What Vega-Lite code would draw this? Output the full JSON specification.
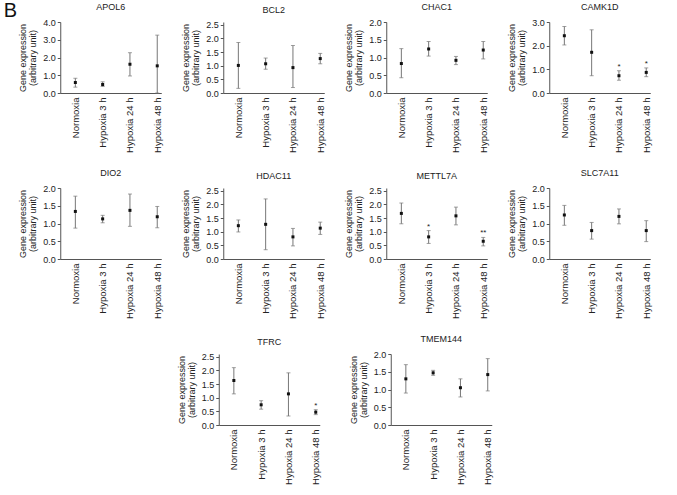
{
  "$schema": "https://vega.github.io/schema/vega-lite/v6.json",
  "padding": {"left": 3, "top": 1, "right": 5, "bottom": 5},
  "background": "white",
  "title": {"text": "B", "anchor": "start", "frame": "bounds", "fontSize": 20, "fontWeight": "normal", "offset": -18, "dx": -15, "color": "#111"},
  "data": {"values": [
    {"gene": "APOL6", "cond": "Normoxia", "mean": 0.59, "lo": 0.33, "hi": 0.83, "sig": ""},
    {"gene": "APOL6", "cond": "Hypoxia 3 h", "mean": 0.48, "lo": 0.37, "hi": 0.63, "sig": ""},
    {"gene": "APOL6", "cond": "Hypoxia 24 h", "mean": 1.62, "lo": 0.96, "hi": 2.27, "sig": ""},
    {"gene": "APOL6", "cond": "Hypoxia 48 h", "mean": 1.53, "lo": 0.0, "hi": 3.26, "sig": ""},
    {"gene": "BCL2", "cond": "Normoxia", "mean": 1.01, "lo": 0.17, "hi": 1.85, "sig": ""},
    {"gene": "BCL2", "cond": "Hypoxia 3 h", "mean": 1.07, "lo": 0.87, "hi": 1.28, "sig": ""},
    {"gene": "BCL2", "cond": "Hypoxia 24 h", "mean": 0.93, "lo": 0.2, "hi": 1.74, "sig": ""},
    {"gene": "BCL2", "cond": "Hypoxia 48 h", "mean": 1.26, "lo": 1.07, "hi": 1.45, "sig": ""},
    {"gene": "CHAC1", "cond": "Normoxia", "mean": 0.83, "lo": 0.43, "hi": 1.25, "sig": ""},
    {"gene": "CHAC1", "cond": "Hypoxia 3 h", "mean": 1.24, "lo": 1.04, "hi": 1.45, "sig": ""},
    {"gene": "CHAC1", "cond": "Hypoxia 24 h", "mean": 0.92, "lo": 0.8, "hi": 1.03, "sig": ""},
    {"gene": "CHAC1", "cond": "Hypoxia 48 h", "mean": 1.21, "lo": 0.96, "hi": 1.45, "sig": ""},
    {"gene": "CAMK1D", "cond": "Normoxia", "mean": 2.42, "lo": 2.03, "hi": 2.81, "sig": ""},
    {"gene": "CAMK1D", "cond": "Hypoxia 3 h", "mean": 1.72, "lo": 0.73, "hi": 2.67, "sig": ""},
    {"gene": "CAMK1D", "cond": "Hypoxia 24 h", "mean": 0.73, "lo": 0.54, "hi": 0.94, "sig": "*"},
    {"gene": "CAMK1D", "cond": "Hypoxia 48 h", "mean": 0.87, "lo": 0.69, "hi": 1.06, "sig": "*"},
    {"gene": "DIO2", "cond": "Normoxia", "mean": 1.34, "lo": 0.87, "hi": 1.77, "sig": ""},
    {"gene": "DIO2", "cond": "Hypoxia 3 h", "mean": 1.13, "lo": 1.02, "hi": 1.23, "sig": ""},
    {"gene": "DIO2", "cond": "Hypoxia 24 h", "mean": 1.37, "lo": 0.92, "hi": 1.83, "sig": ""},
    {"gene": "DIO2", "cond": "Hypoxia 48 h", "mean": 1.19, "lo": 0.88, "hi": 1.48, "sig": ""},
    {"gene": "HDAC11", "cond": "Normoxia", "mean": 1.22, "lo": 0.99, "hi": 1.43, "sig": ""},
    {"gene": "HDAC11", "cond": "Hypoxia 3 h", "mean": 1.27, "lo": 0.34, "hi": 2.2, "sig": ""},
    {"gene": "HDAC11", "cond": "Hypoxia 24 h", "mean": 0.81, "lo": 0.48, "hi": 1.12, "sig": ""},
    {"gene": "HDAC11", "cond": "Hypoxia 48 h", "mean": 1.13, "lo": 0.9, "hi": 1.35, "sig": ""},
    {"gene": "METTL7A", "cond": "Normoxia", "mean": 1.67, "lo": 1.29, "hi": 2.05, "sig": ""},
    {"gene": "METTL7A", "cond": "Hypoxia 3 h", "mean": 0.81, "lo": 0.57, "hi": 1.04, "sig": "*"},
    {"gene": "METTL7A", "cond": "Hypoxia 24 h", "mean": 1.58, "lo": 1.25, "hi": 1.9, "sig": ""},
    {"gene": "METTL7A", "cond": "Hypoxia 48 h", "mean": 0.65, "lo": 0.48, "hi": 0.79, "sig": "**"},
    {"gene": "SLC7A11", "cond": "Normoxia", "mean": 1.24, "lo": 0.95, "hi": 1.51, "sig": ""},
    {"gene": "SLC7A11", "cond": "Hypoxia 3 h", "mean": 0.8, "lo": 0.56, "hi": 1.03, "sig": ""},
    {"gene": "SLC7A11", "cond": "Hypoxia 24 h", "mean": 1.2, "lo": 0.99, "hi": 1.41, "sig": ""},
    {"gene": "SLC7A11", "cond": "Hypoxia 48 h", "mean": 0.8, "lo": 0.49, "hi": 1.08, "sig": ""},
    {"gene": "TFRC", "cond": "Normoxia", "mean": 1.63, "lo": 1.14, "hi": 2.1, "sig": ""},
    {"gene": "TFRC", "cond": "Hypoxia 3 h", "mean": 0.74, "lo": 0.58, "hi": 0.89, "sig": ""},
    {"gene": "TFRC", "cond": "Hypoxia 24 h", "mean": 1.14, "lo": 0.33, "hi": 1.91, "sig": ""},
    {"gene": "TFRC", "cond": "Hypoxia 48 h", "mean": 0.47, "lo": 0.38, "hi": 0.56, "sig": "*"},
    {"gene": "TMEM144", "cond": "Normoxia", "mean": 1.3, "lo": 0.9, "hi": 1.7, "sig": ""},
    {"gene": "TMEM144", "cond": "Hypoxia 3 h", "mean": 1.47, "lo": 1.4, "hi": 1.54, "sig": ""},
    {"gene": "TMEM144", "cond": "Hypoxia 24 h", "mean": 1.05, "lo": 0.79, "hi": 1.3, "sig": ""},
    {"gene": "TMEM144", "cond": "Hypoxia 48 h", "mean": 1.42, "lo": 0.96, "hi": 1.87, "sig": ""}
  ]},
  "spacing": 16,
  "center": true,
  "vconcat": [
    {"spacing": 19, "hconcat": [
      {"width": 101, "height": 71, "title": "APOL6", "transform": [{"filter": "datum.gene === 'APOL6'"}],
       "encoding": {"x": {"field": "cond", "type": "nominal", "sort": ["Normoxia", "Hypoxia 3 h", "Hypoxia 24 h", "Hypoxia 48 h"], "scale": {"type": "point", "padding": 0.35, "align": 0.79}, "title": null}},
       "layer": [
        {"mark": {"type": "rule", "color": "#777", "strokeWidth": 1}, "encoding": {"y": {"field": "lo", "type": "quantitative", "scale": {"domain": [0, 4]}, "axis": {"values": [0, 1, 2, 3, 4], "tickCount": 20, "format": ".1f", "labelOverlap": false, "title": ["Gene expression", "(arbitrary unit)"]}}, "y2": {"field": "hi"}}},
        {"mark": {"type": "tick", "color": "#777", "size": 4, "thickness": 1}, "encoding": {"y": {"field": "hi", "type": "quantitative"}}},
        {"mark": {"type": "tick", "color": "#777", "size": 4, "thickness": 1}, "encoding": {"y": {"field": "lo", "type": "quantitative"}}},
        {"mark": {"type": "square", "color": "#111", "size": 9, "opacity": 1}, "encoding": {"y": {"field": "mean", "type": "quantitative"}}},
        {"transform": [{"filter": "datum.sig !== ''"}], "mark": {"type": "text", "baseline": "alphabetic", "dy": -2, "fontSize": 8, "color": "#222"}, "encoding": {"y": {"field": "hi", "type": "quantitative"}, "text": {"field": "sig"}}}
       ]},
      {"width": 101, "height": 71, "title": "BCL2", "transform": [{"filter": "datum.gene === 'BCL2'"}],
       "encoding": {"x": {"field": "cond", "type": "nominal", "sort": ["Normoxia", "Hypoxia 3 h", "Hypoxia 24 h", "Hypoxia 48 h"], "scale": {"type": "point", "padding": 0.35, "align": 0.79}, "title": null}},
       "layer": [
        {"mark": {"type": "rule", "color": "#777", "strokeWidth": 1}, "encoding": {"y": {"field": "lo", "type": "quantitative", "scale": {"domain": [0, 2.5]}, "axis": {"values": [0, 0.5, 1, 1.5, 2, 2.5], "tickCount": 20, "format": ".1f", "labelOverlap": false, "title": ["Gene expression", "(arbitrary unit)"]}}, "y2": {"field": "hi"}}},
        {"mark": {"type": "tick", "color": "#777", "size": 4, "thickness": 1}, "encoding": {"y": {"field": "hi", "type": "quantitative"}}},
        {"mark": {"type": "tick", "color": "#777", "size": 4, "thickness": 1}, "encoding": {"y": {"field": "lo", "type": "quantitative"}}},
        {"mark": {"type": "square", "color": "#111", "size": 9, "opacity": 1}, "encoding": {"y": {"field": "mean", "type": "quantitative"}}},
        {"transform": [{"filter": "datum.sig !== ''"}], "mark": {"type": "text", "baseline": "alphabetic", "dy": -2, "fontSize": 8, "color": "#222"}, "encoding": {"y": {"field": "hi", "type": "quantitative"}, "text": {"field": "sig"}}}
       ]},
      {"width": 101, "height": 71, "title": "CHAC1", "transform": [{"filter": "datum.gene === 'CHAC1'"}],
       "encoding": {"x": {"field": "cond", "type": "nominal", "sort": ["Normoxia", "Hypoxia 3 h", "Hypoxia 24 h", "Hypoxia 48 h"], "scale": {"type": "point", "padding": 0.35, "align": 0.79}, "title": null}},
       "layer": [
        {"mark": {"type": "rule", "color": "#777", "strokeWidth": 1}, "encoding": {"y": {"field": "lo", "type": "quantitative", "scale": {"domain": [0, 2]}, "axis": {"values": [0, 0.5, 1, 1.5, 2], "tickCount": 20, "format": ".1f", "labelOverlap": false, "title": ["Gene expression", "(arbitrary unit)"]}}, "y2": {"field": "hi"}}},
        {"mark": {"type": "tick", "color": "#777", "size": 4, "thickness": 1}, "encoding": {"y": {"field": "hi", "type": "quantitative"}}},
        {"mark": {"type": "tick", "color": "#777", "size": 4, "thickness": 1}, "encoding": {"y": {"field": "lo", "type": "quantitative"}}},
        {"mark": {"type": "square", "color": "#111", "size": 9, "opacity": 1}, "encoding": {"y": {"field": "mean", "type": "quantitative"}}},
        {"transform": [{"filter": "datum.sig !== ''"}], "mark": {"type": "text", "baseline": "alphabetic", "dy": -2, "fontSize": 8, "color": "#222"}, "encoding": {"y": {"field": "hi", "type": "quantitative"}, "text": {"field": "sig"}}}
       ]},
      {"width": 101, "height": 71, "title": "CAMK1D", "transform": [{"filter": "datum.gene === 'CAMK1D'"}],
       "encoding": {"x": {"field": "cond", "type": "nominal", "sort": ["Normoxia", "Hypoxia 3 h", "Hypoxia 24 h", "Hypoxia 48 h"], "scale": {"type": "point", "padding": 0.35, "align": 0.79}, "title": null}},
       "layer": [
        {"mark": {"type": "rule", "color": "#777", "strokeWidth": 1}, "encoding": {"y": {"field": "lo", "type": "quantitative", "scale": {"domain": [0, 3]}, "axis": {"values": [0, 1, 2, 3], "tickCount": 20, "format": ".1f", "labelOverlap": false, "title": ["Gene expression", "(arbitrary unit)"]}}, "y2": {"field": "hi"}}},
        {"mark": {"type": "tick", "color": "#777", "size": 4, "thickness": 1}, "encoding": {"y": {"field": "hi", "type": "quantitative"}}},
        {"mark": {"type": "tick", "color": "#777", "size": 4, "thickness": 1}, "encoding": {"y": {"field": "lo", "type": "quantitative"}}},
        {"mark": {"type": "square", "color": "#111", "size": 9, "opacity": 1}, "encoding": {"y": {"field": "mean", "type": "quantitative"}}},
        {"transform": [{"filter": "datum.sig !== ''"}], "mark": {"type": "text", "baseline": "alphabetic", "dy": -2, "fontSize": 8, "color": "#222"}, "encoding": {"y": {"field": "hi", "type": "quantitative"}, "text": {"field": "sig"}}}
       ]}
    ]},
    {"spacing": 19, "hconcat": [
      {"width": 101, "height": 71, "title": "DIO2", "transform": [{"filter": "datum.gene === 'DIO2'"}],
       "encoding": {"x": {"field": "cond", "type": "nominal", "sort": ["Normoxia", "Hypoxia 3 h", "Hypoxia 24 h", "Hypoxia 48 h"], "scale": {"type": "point", "padding": 0.35, "align": 0.79}, "title": null}},
       "layer": [
        {"mark": {"type": "rule", "color": "#777", "strokeWidth": 1}, "encoding": {"y": {"field": "lo", "type": "quantitative", "scale": {"domain": [0, 2]}, "axis": {"values": [0, 0.5, 1, 1.5, 2], "tickCount": 20, "format": ".1f", "labelOverlap": false, "title": ["Gene expression", "(arbitrary unit)"]}}, "y2": {"field": "hi"}}},
        {"mark": {"type": "tick", "color": "#777", "size": 4, "thickness": 1}, "encoding": {"y": {"field": "hi", "type": "quantitative"}}},
        {"mark": {"type": "tick", "color": "#777", "size": 4, "thickness": 1}, "encoding": {"y": {"field": "lo", "type": "quantitative"}}},
        {"mark": {"type": "square", "color": "#111", "size": 9, "opacity": 1}, "encoding": {"y": {"field": "mean", "type": "quantitative"}}},
        {"transform": [{"filter": "datum.sig !== ''"}], "mark": {"type": "text", "baseline": "alphabetic", "dy": -2, "fontSize": 8, "color": "#222"}, "encoding": {"y": {"field": "hi", "type": "quantitative"}, "text": {"field": "sig"}}}
       ]},
      {"width": 101, "height": 71, "title": "HDAC11", "transform": [{"filter": "datum.gene === 'HDAC11'"}],
       "encoding": {"x": {"field": "cond", "type": "nominal", "sort": ["Normoxia", "Hypoxia 3 h", "Hypoxia 24 h", "Hypoxia 48 h"], "scale": {"type": "point", "padding": 0.35, "align": 0.79}, "title": null}},
       "layer": [
        {"mark": {"type": "rule", "color": "#777", "strokeWidth": 1}, "encoding": {"y": {"field": "lo", "type": "quantitative", "scale": {"domain": [0, 2.5]}, "axis": {"values": [0, 0.5, 1, 1.5, 2, 2.5], "tickCount": 20, "format": ".1f", "labelOverlap": false, "title": ["Gene expression", "(arbitrary unit)"]}}, "y2": {"field": "hi"}}},
        {"mark": {"type": "tick", "color": "#777", "size": 4, "thickness": 1}, "encoding": {"y": {"field": "hi", "type": "quantitative"}}},
        {"mark": {"type": "tick", "color": "#777", "size": 4, "thickness": 1}, "encoding": {"y": {"field": "lo", "type": "quantitative"}}},
        {"mark": {"type": "square", "color": "#111", "size": 9, "opacity": 1}, "encoding": {"y": {"field": "mean", "type": "quantitative"}}},
        {"transform": [{"filter": "datum.sig !== ''"}], "mark": {"type": "text", "baseline": "alphabetic", "dy": -2, "fontSize": 8, "color": "#222"}, "encoding": {"y": {"field": "hi", "type": "quantitative"}, "text": {"field": "sig"}}}
       ]},
      {"width": 101, "height": 71, "title": "METTL7A", "transform": [{"filter": "datum.gene === 'METTL7A'"}],
       "encoding": {"x": {"field": "cond", "type": "nominal", "sort": ["Normoxia", "Hypoxia 3 h", "Hypoxia 24 h", "Hypoxia 48 h"], "scale": {"type": "point", "padding": 0.35, "align": 0.79}, "title": null}},
       "layer": [
        {"mark": {"type": "rule", "color": "#777", "strokeWidth": 1}, "encoding": {"y": {"field": "lo", "type": "quantitative", "scale": {"domain": [0, 2.5]}, "axis": {"values": [0, 0.5, 1, 1.5, 2, 2.5], "tickCount": 20, "format": ".1f", "labelOverlap": false, "title": ["Gene expression", "(arbitrary unit)"]}}, "y2": {"field": "hi"}}},
        {"mark": {"type": "tick", "color": "#777", "size": 4, "thickness": 1}, "encoding": {"y": {"field": "hi", "type": "quantitative"}}},
        {"mark": {"type": "tick", "color": "#777", "size": 4, "thickness": 1}, "encoding": {"y": {"field": "lo", "type": "quantitative"}}},
        {"mark": {"type": "square", "color": "#111", "size": 9, "opacity": 1}, "encoding": {"y": {"field": "mean", "type": "quantitative"}}},
        {"transform": [{"filter": "datum.sig !== ''"}], "mark": {"type": "text", "baseline": "alphabetic", "dy": -2, "fontSize": 8, "color": "#222"}, "encoding": {"y": {"field": "hi", "type": "quantitative"}, "text": {"field": "sig"}}}
       ]},
      {"width": 101, "height": 71, "title": "SLC7A11", "transform": [{"filter": "datum.gene === 'SLC7A11'"}],
       "encoding": {"x": {"field": "cond", "type": "nominal", "sort": ["Normoxia", "Hypoxia 3 h", "Hypoxia 24 h", "Hypoxia 48 h"], "scale": {"type": "point", "padding": 0.35, "align": 0.79}, "title": null}},
       "layer": [
        {"mark": {"type": "rule", "color": "#777", "strokeWidth": 1}, "encoding": {"y": {"field": "lo", "type": "quantitative", "scale": {"domain": [0, 2]}, "axis": {"values": [0, 0.5, 1, 1.5, 2], "tickCount": 20, "format": ".1f", "labelOverlap": false, "title": ["Gene expression", "(arbitrary unit)"]}}, "y2": {"field": "hi"}}},
        {"mark": {"type": "tick", "color": "#777", "size": 4, "thickness": 1}, "encoding": {"y": {"field": "hi", "type": "quantitative"}}},
        {"mark": {"type": "tick", "color": "#777", "size": 4, "thickness": 1}, "encoding": {"y": {"field": "lo", "type": "quantitative"}}},
        {"mark": {"type": "square", "color": "#111", "size": 9, "opacity": 1}, "encoding": {"y": {"field": "mean", "type": "quantitative"}}},
        {"transform": [{"filter": "datum.sig !== ''"}], "mark": {"type": "text", "baseline": "alphabetic", "dy": -2, "fontSize": 8, "color": "#222"}, "encoding": {"y": {"field": "hi", "type": "quantitative"}, "text": {"field": "sig"}}}
       ]}
    ]},
    {"spacing": 28, "hconcat": [
      {"width": 101, "height": 71, "title": "TFRC", "transform": [{"filter": "datum.gene === 'TFRC'"}],
       "encoding": {"x": {"field": "cond", "type": "nominal", "sort": ["Normoxia", "Hypoxia 3 h", "Hypoxia 24 h", "Hypoxia 48 h"], "scale": {"type": "point", "padding": 0.35, "align": 0.79}, "title": null}},
       "layer": [
        {"mark": {"type": "rule", "color": "#777", "strokeWidth": 1}, "encoding": {"y": {"field": "lo", "type": "quantitative", "scale": {"domain": [0, 2.5]}, "axis": {"values": [0, 0.5, 1, 1.5, 2, 2.5], "tickCount": 20, "format": ".1f", "labelOverlap": false, "title": ["Gene expression", "(arbitrary unit)"]}}, "y2": {"field": "hi"}}},
        {"mark": {"type": "tick", "color": "#777", "size": 4, "thickness": 1}, "encoding": {"y": {"field": "hi", "type": "quantitative"}}},
        {"mark": {"type": "tick", "color": "#777", "size": 4, "thickness": 1}, "encoding": {"y": {"field": "lo", "type": "quantitative"}}},
        {"mark": {"type": "square", "color": "#111", "size": 9, "opacity": 1}, "encoding": {"y": {"field": "mean", "type": "quantitative"}}},
        {"transform": [{"filter": "datum.sig !== ''"}], "mark": {"type": "text", "baseline": "alphabetic", "dy": -2, "fontSize": 8, "color": "#222"}, "encoding": {"y": {"field": "hi", "type": "quantitative"}, "text": {"field": "sig"}}}
       ]},
      {"width": 101, "height": 71, "title": "TMEM144", "transform": [{"filter": "datum.gene === 'TMEM144'"}],
       "encoding": {"x": {"field": "cond", "type": "nominal", "sort": ["Normoxia", "Hypoxia 3 h", "Hypoxia 24 h", "Hypoxia 48 h"], "scale": {"type": "point", "padding": 0.35, "align": 0.79}, "title": null}},
       "layer": [
        {"mark": {"type": "rule", "color": "#777", "strokeWidth": 1}, "encoding": {"y": {"field": "lo", "type": "quantitative", "scale": {"domain": [0, 2]}, "axis": {"values": [0, 0.5, 1, 1.5, 2], "tickCount": 20, "format": ".1f", "labelOverlap": false, "title": ["Gene expression", "(arbitrary unit)"]}}, "y2": {"field": "hi"}}},
        {"mark": {"type": "tick", "color": "#777", "size": 4, "thickness": 1}, "encoding": {"y": {"field": "hi", "type": "quantitative"}}},
        {"mark": {"type": "tick", "color": "#777", "size": 4, "thickness": 1}, "encoding": {"y": {"field": "lo", "type": "quantitative"}}},
        {"mark": {"type": "square", "color": "#111", "size": 9, "opacity": 1}, "encoding": {"y": {"field": "mean", "type": "quantitative"}}},
        {"transform": [{"filter": "datum.sig !== ''"}], "mark": {"type": "text", "baseline": "alphabetic", "dy": -2, "fontSize": 8, "color": "#222"}, "encoding": {"y": {"field": "hi", "type": "quantitative"}, "text": {"field": "sig"}}}
       ]}
    ]}
  ],
  "config": {
    "font": "Liberation Sans",
    "view": {"stroke": null},
    "title": {"fontSize": 9, "fontWeight": "normal", "color": "#222", "offset": 6},
    "axis": {"grid": false, "domainColor": "#555", "tickColor": "#555", "labelColor": "#222", "titleColor": "#222"},
    "axisX": {"labelAngle": -90, "ticks": false, "labelFontSize": 9.5, "labelPadding": 4},
    "axisY": {"tickSize": 3, "labelFontSize": 9, "labelPadding": 2, "labelOverlap": false, "titleFontSize": 9, "titleFontWeight": "normal", "titlePadding": 5, "titleLineHeight": 10}
  }
}
